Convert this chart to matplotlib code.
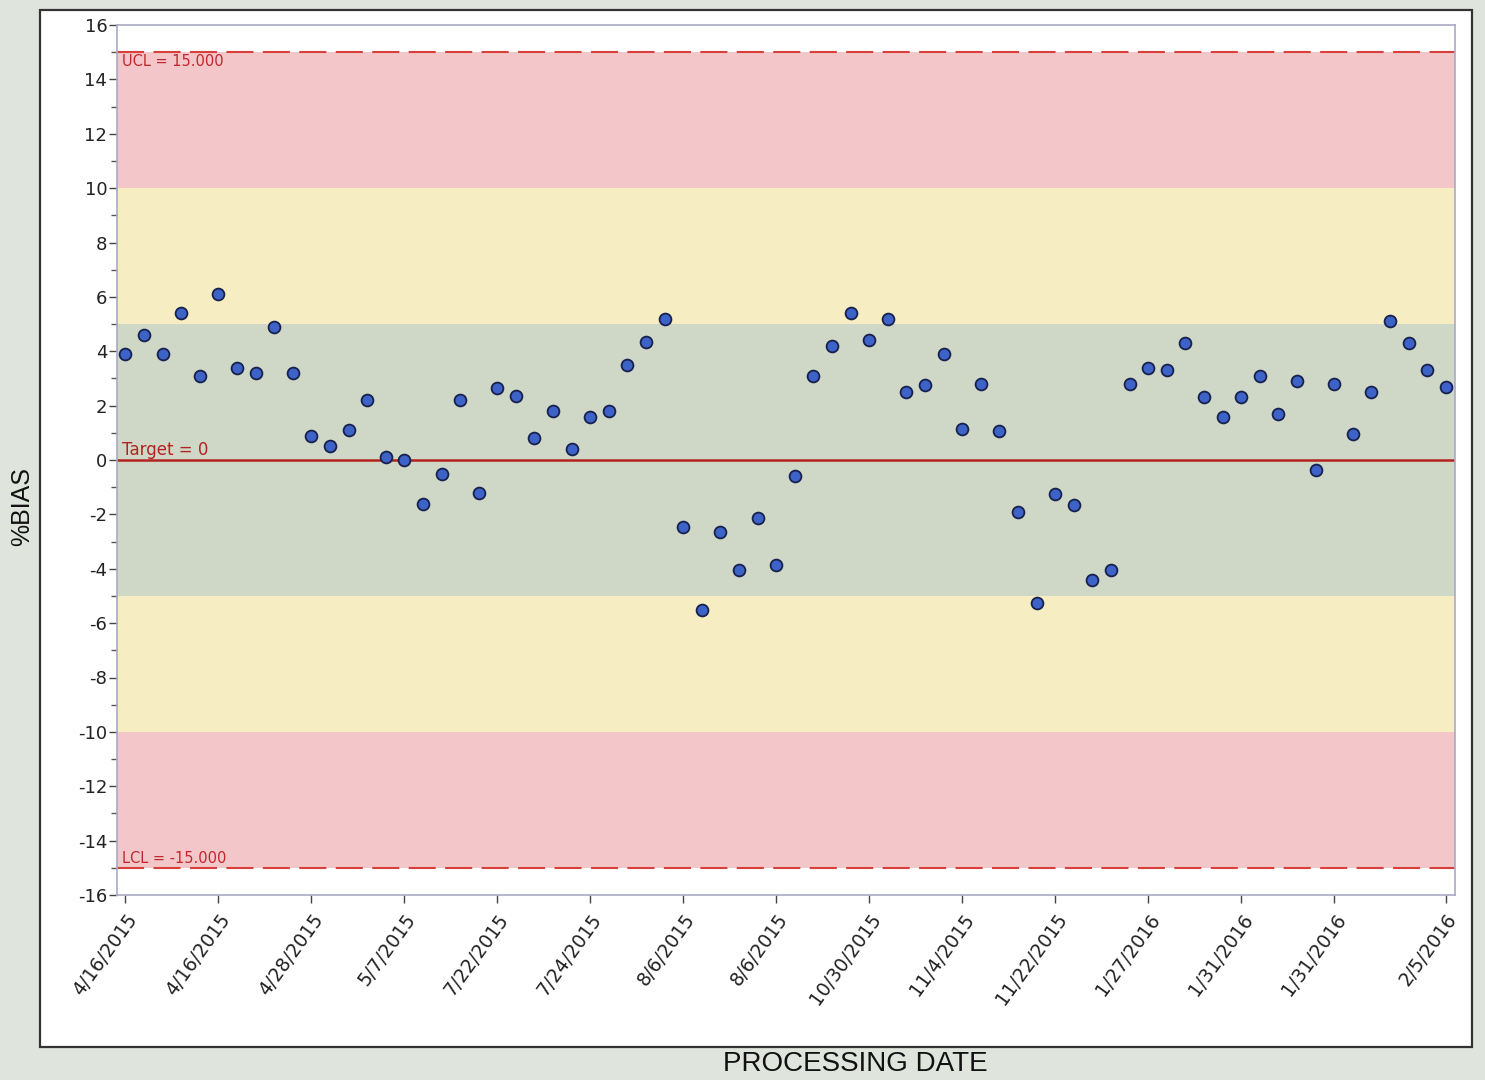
import matplotlib
matplotlib.use("Agg")
import matplotlib.pyplot as plt
from matplotlib.patches import Rectangle
import numpy as np

plt.rcParams["axes.unicode_minus"] = False

# ---------------- data ----------------
bias = [3.9, 4.6, 3.9, 5.4, 3.1, 6.1, 3.4, 3.2, 4.9, 3.2,
        0.9, 0.5, 1.1, 2.2, 0.1, 0.0, -1.6, -0.5, 2.2, -1.2,
        2.65, 2.35, 0.8, 1.8, 0.4, 1.6, 1.8, 3.5, 4.35, 5.2,
        -2.45, -5.5, -2.65, -4.05, -2.15, -3.85, -0.6, 3.1, 4.2, 5.4,
        4.4, 5.2, 2.5, 2.75, 3.9, 1.15, 2.8, 1.05, -1.9, -5.25,
        -1.25, -1.65, -4.4, -4.05, 2.8, 3.4, 3.3, 4.3, 2.3, 1.6,
        2.3, 3.1, 1.7, 2.9, -0.35, 2.8, 0.95, 2.5, 5.1, 4.3,
        3.3, 2.7]
tick_index = [0, 5, 10, 15, 20, 25, 30, 35, 40, 45, 50, 55, 60, 65, 71]
tick_labels = ["4/16/2015", "4/16/2015", "4/28/2015", "5/7/2015", "7/22/2015",
               "7/24/2015", "8/6/2015", "8/6/2015", "10/30/2015", "11/4/2015",
               "11/22/2015", "1/27/2016", "1/31/2016", "1/31/2016", "2/5/2016"]
target = 0
ucl = 15.0
lcl = -15.0
zones = [(10, 15, "#f3c6ca"), (5, 10, "#f6edc3"), (-5, 5, "#cfd7c7"),
         (-10, -5, "#f6edc3"), (-15, -10, "#f3c6ca")]

W, H = 1485, 1080
fig = plt.figure(figsize=(W / 100, H / 100), dpi=100, facecolor="#dfe4dc")

# white panel with border
fig.patches.append(Rectangle((40 / W, 1 - 1047 / H), (1472 - 40) / W, (1047 - 10) / H,
                             transform=fig.transFigure, facecolor="white",
                             edgecolor="#333333", lw=1.6, zorder=-10))

ax = fig.add_axes([117 / W, 1 - 895 / H, (1455 - 117) / W, (895 - 25) / H])
ax.set_zorder(5)
ax.set_facecolor("white")

x = np.arange(len(bias))
ax.set_xlim(-0.45, len(bias) - 0.5)
ax.set_ylim(-16, 16)

for lo, hi, c in zones:
    ax.axhspan(lo, hi, color=c, lw=0, zorder=0)

ax.axhline(ucl, color="#d9403c", lw=1.5, dashes=(13, 4.5), zorder=2)
ax.axhline(lcl, color="#d9403c", lw=1.5, dashes=(13, 4.5), zorder=2)
ax.axhline(target, color="#b3231f", lw=1.8, zorder=2)

ax.plot(x, bias, linestyle="none", marker="o", markersize=8.5,
        markerfacecolor="#3d62c8", markeredgecolor="#17214d",
        markeredgewidth=1.3, zorder=3)

ax.text(-0.2, ucl - 0.05, "UCL = 15.000", color="#c0282d", fontsize=10.5,
        va="top", ha="left", zorder=4)
ax.text(-0.2, target + 0.05, "Target = 0", color="#b3231f", fontsize=12,
        va="bottom", ha="left", zorder=4)
ax.text(-0.2, lcl + 0.05, "LCL = -15.000", color="#c0282d", fontsize=10.5,
        va="bottom", ha="left", zorder=4)

ax.set_yticks(np.arange(-16, 17, 2))
ax.set_yticks(np.arange(-16, 17, 1), minor=True)
ax.set_xticks(tick_index)
ax.set_xticklabels(tick_labels, rotation=54, ha="right", rotation_mode="anchor")
ax.tick_params(axis="y", which="major", labelsize=13, length=6, width=1,
               color="#444444", labelcolor="#222222", pad=1)
ax.tick_params(axis="y", which="minor", length=4, width=1, color="#555555")
ax.tick_params(axis="x", which="major", labelsize=13.5, length=6, width=1,
               color="#444444", labelcolor="#222222", pad=5)

for s in ax.spines.values():
    s.set_color("#a9a9c4")
    s.set_linewidth(1.2)

fig.text(855 / W, 1 - 1064 / H, "PROCESSING DATE", fontsize=20,
         family="Liberation Sans", ha="center", va="center", color="#111111")
fig.text(22 / W, 1 - 507 / H, "%BIAS", fontsize=18, family="Liberation Sans",
         rotation=90, ha="center", va="center", color="#111111")

fig.savefig("out.png", dpi=100, facecolor=fig.get_facecolor())
